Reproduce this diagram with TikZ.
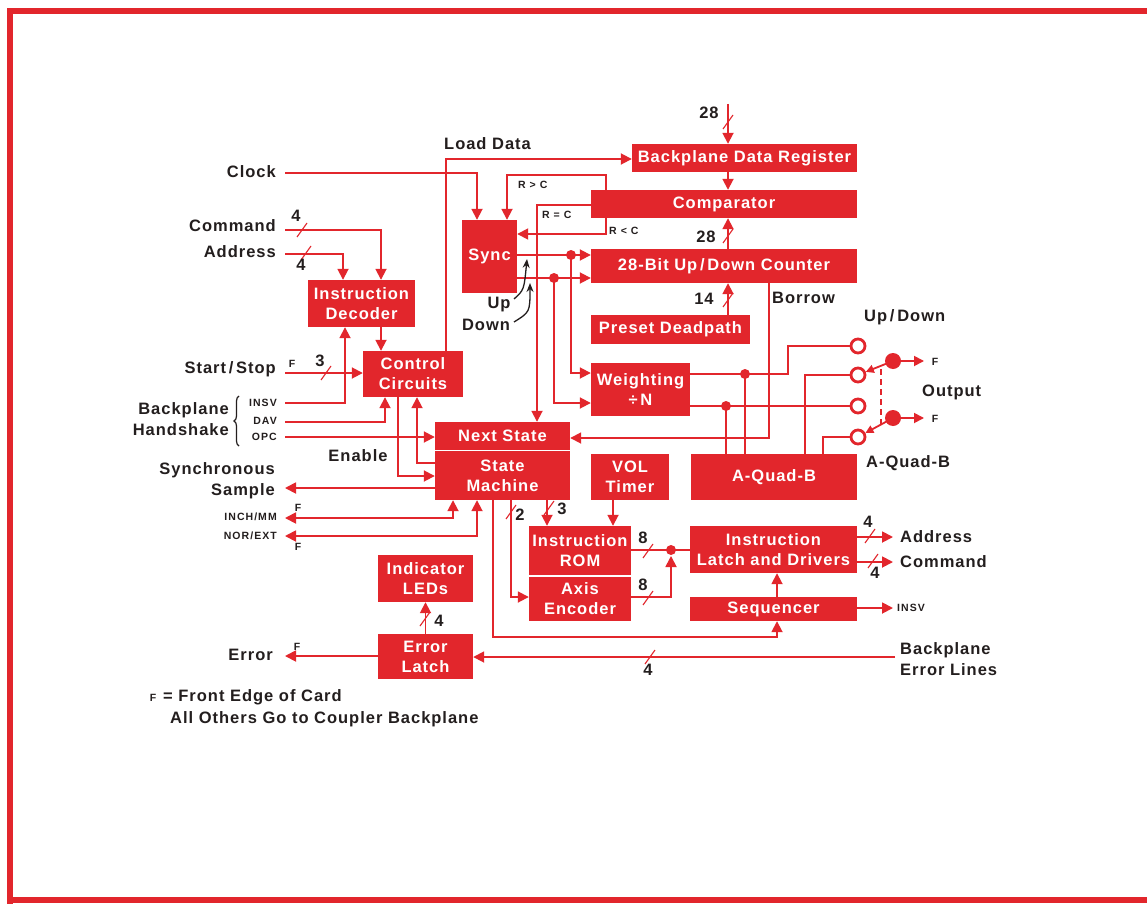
\documentclass[tikz,border=0pt]{standalone}
\usepackage{fontspec}
\newfontfamily\hpfont{Liberation Sans}[LetterSpace=6]
\newfontfamily\hpsmallfont{Liberation Sans}[LetterSpace=10]
\usetikzlibrary{arrows.meta,decorations.pathreplacing}
\definecolor{hpred}{RGB}{226,38,44}
\definecolor{ink}{RGB}{35,30,30}
\tikzset{
  box/.style={fill=hpred, draw=none, text=white, align=center, inner sep=0pt,
    font={\hpfont\bfseries\fontsize{16.5}{20}\selectfont}},
  lbl/.style={text=ink, inner sep=0pt, align=left, font={\hpfont\bfseries\fontsize{16.5}{21}\selectfont}},
  small/.style={text=ink, inner sep=0pt, font={\hpsmallfont\bfseries\fontsize{10.5}{12}\selectfont}},
  wire/.style={draw=hpred, line width=1.8pt},
  arr/.style={wire, -{Triangle[length=11pt,width=11pt]}},
  arrtwo/.style={wire, {Triangle[length=11pt,width=11pt]}-{Triangle[length=11pt,width=11pt]}},
  ring/.style={circle, draw=hpred, line width=2.8pt, minimum size=14pt, inner sep=0pt},
  bigdot/.style={circle, fill=hpred, minimum size=16pt, inner sep=0pt},
  slash/.pic={\draw[hpred, line width=1.1pt] (-5,7) -- (5,-7);}
}
\begin{document}
\begin{tikzpicture}[x=1pt,y=-1pt]
\useasboundingbox (0,0) rectangle (1147,904);
\fill[white] (0,0) rectangle (1147,904);
% frame
\fill[hpred] (7,8) rectangle (1147,14);
\fill[hpred] (7,8) rectangle (13,904);
\fill[hpred] (7,897) rectangle (1147,903);

% boxes
\node[box, minimum width=225pt, minimum height=28pt] (bdr) at (744.5,158) {Backplane Data Register};
\node[box, minimum width=266pt, minimum height=28pt] (comp) at (724,204) {Comparator};
\node[box, minimum width=266pt, minimum height=34pt] (cnt) at (724,266) {28-Bit Up\,/\,Down Counter};
\node[box, minimum width=55pt, minimum height=73pt] (sync) at (489.5,256.5) {Sync};
\node[box, minimum width=159pt, minimum height=29pt] (preset) at (670.5,329.5) {Preset Deadpath};
\node[box, minimum width=99pt, minimum height=53pt] (weight) at (640.5,389.5) {Weighting\\÷\,N};
\node[box, minimum width=166pt, minimum height=46pt] (aqb) at (774,477) {A-Quad-B};
\node[box, minimum width=78pt, minimum height=46pt] (vol) at (630,477) {VOL\\Timer};
\node[box, minimum width=135pt, minimum height=28pt] (next) at (502.5,436) {Next State};
\node[box, minimum width=135pt, minimum height=49pt] (sm) at (502.5,475.5) {State\\Machine};
\node[box, minimum width=100pt, minimum height=46pt] (cc) at (413,374) {Control\\Circuits};
\node[box, minimum width=107pt, minimum height=47pt] (dec) at (361.5,303.5) {Instruction\\Decoder};
\node[box, minimum width=102pt, minimum height=49pt] (rom) at (580,550.5) {Instruction\\ROM};
\node[box, minimum width=102pt, minimum height=44pt] (enc) at (580,599) {Axis\\Encoder};
\node[box, minimum width=167pt, minimum height=47pt] (latch) at (773.5,549.5) {Instruction\\Latch and Drivers};
\node[box, minimum width=167pt, minimum height=24pt] (seq) at (773.5,609) {Sequencer};
\node[box, minimum width=95pt, minimum height=47pt] (leds) at (425.5,578.5) {Indicator\\LEDs};
\node[box, minimum width=95pt, minimum height=45pt] (err) at (425.5,656.5) {Error\\Latch};

% ---- top: data register, comparator, counter
\coordinate (in28) at (728,104);
\draw[arr] (in28) -- (bdr.north -| in28);
\pic at (728,122) {slash};
\node[lbl] (n28a) at (709,113) {28};
\draw[arr] (bdr.south -| in28) -- (comp.north -| in28);
\draw[arr] (cnt.north -| in28) -- (comp.south -| in28);
\pic at (728,236) {slash};
\node[lbl] (n28b) at (706,237) {28};
\draw[arr] (preset.north -| in28) -- (cnt.south -| in28);
\pic at (728,300) {slash};
\node[lbl] (n14) at (704,299) {14};

% load data
\coordinate (ld) at (446,159);
\draw[arr] (cc.north -| ld) -- (ld) -- (bdr.west |- ld);
\node[lbl, anchor=west] (ldl) at (444,144) {Load Data};

% clock
\coordinate (clk) at (285,173);
\coordinate (clkc) at (477,173);
\draw[arr] (clk) -- (clkc) -- (sync.north -| clkc);
\node[lbl, anchor=east] (clkl) at (276,172) {Clock};

% comparator results
\coordinate (rgt) at (606,175);
\coordinate (rgt2) at (507,175);
\draw[arr] (comp.north -| rgt) -- (rgt) -- (rgt2) -- (sync.north -| rgt2);
\node[small, anchor=west] (rgtl) at (518,185) {R > C};
\coordinate (req) at (537,205);
\draw[arr] (comp.west |- req) -- (req) -- (next.north -| req);
\node[small, anchor=west] (reql) at (542,215) {R = C};
\coordinate (rlt) at (606,234);
\draw[arr] (comp.south -| rlt) -- (rlt) -- (sync.east |- rlt);
\node[small, anchor=west] (rltl) at (609,231) {R < C};

% up / down
\coordinate (up) at (571,255);
\coordinate (dn) at (554,278);
\draw[arr] (sync.east |- up) -- (cnt.west |- up);
\draw[arr] (sync.east |- dn) -- (cnt.west |- dn);
\coordinate (wup) at (571,373);
\coordinate (wdn) at (554,403);
\draw[arr] (up) -- (wup) -- (weight.west |- wup);
\draw[arr] (dn) -- (wdn) -- (weight.west |- wdn);
\fill[hpred] (up) circle (5);
\fill[hpred] (dn) circle (5);
\node[lbl] (upl) at (499,305) {Up};
\node[lbl] (dnl) at (486,325) {Down};
\draw[ink, line width=1.3pt, -{Stealth[length=9pt,width=7pt]}] (514,299) .. controls (524,290) .. (527,259);
\draw[ink, line width=1.3pt, -{Stealth[length=9pt,width=7pt]}] (514,322) .. controls (530,312) .. (530,283);

% borrow
\coordinate (bor) at (769,438);
\draw[arr] (cnt.south -| bor) -- (bor) -- (next.east |- bor);
\node[lbl, anchor=west] (borl) at (772,298) {Borrow};

% outputs
\node[ring] (o1) at (858,346) {};
\node[ring] (o2) at (858,375) {};
\node[ring] (o3) at (858,406) {};
\node[ring] (o4) at (858,437) {};
\coordinate (wo1) at (788,374);
\draw[wire] (weight.east |- wo1) -- (wo1) |- (o1);
\coordinate (wo2) at (726,406);
\draw[wire] (weight.east |- wo2) -- (o3);
\coordinate (j1) at (745,374);
\draw[wire] (j1) -- (aqb.north -| j1);
\draw[wire] (wo2) -- (aqb.north -| wo2);
\fill[hpred] (j1) circle (5);
\fill[hpred] (wo2) circle (5);
\coordinate (aq1) at (805,375);
\draw[wire] (aqb.north -| aq1) |- (o2);
\coordinate (aq2) at (823,437);
\draw[wire] (aqb.north -| aq2) |- (o4);
\node[bigdot] (s1) at (893,361) {};
\node[bigdot] (s2) at (893,418) {};
\coordinate (f1) at (924,361);
\coordinate (f2) at (924,418);
\draw[wire, -{Triangle[length=10pt,width=10pt]}] (s1) -- (f1);
\draw[wire, -{Triangle[length=10pt,width=10pt]}] (s2) -- (f2);
\draw[wire, -{Triangle[length=8pt,width=8pt]}] (s1.center) -- (o2);
\draw[wire, -{Triangle[length=8pt,width=8pt]}] (s2.center) -- (o4);
\draw[hpred, line width=1.4pt, dash pattern=on 6pt off 4pt] (881,369) -- (881,425);
\node[small] (ff1) at (935,362) {F};
\node[small] (ff2) at (935,419) {F};
\node[lbl, anchor=west] (udl) at (864,317) {Up\,/\,Down};
\node[lbl, anchor=west] (outl) at (922,392) {Output};
\node[lbl, anchor=west] (aqbl) at (866,463) {A-Quad-B};

% decoder / control inputs
\coordinate (cmd) at (285,230);
\coordinate (cmdc) at (381,230);
\draw[arr] (cmd) -- (cmdc) -- (dec.north -| cmdc);
\pic at (302,230) {slash};
\node[lbl] (n4a) at (296,216) {4};
\node[lbl, anchor=east] (cmdl) at (276,226) {Command};
\coordinate (adr) at (285,254);
\coordinate (adrc) at (343,254);
\draw[arr] (adr) -- (adrc) -- (dec.north -| adrc);
\pic at (306,253) {slash};
\node[lbl] (n4b) at (301,265) {4};
\node[lbl, anchor=east] (adrl) at (276,252) {Address};
\draw[arr] (dec.south -| cmdc) -- (cc.north -| cmdc);

\coordinate (ss) at (285,373);
\draw[arr] (ss) -- (cc.west |- ss);
\pic at (326,373) {slash};
\node[lbl] (n3a) at (320,361) {3};
\node[small] (fss) at (292,364) {F};
\node[lbl, anchor=east] (ssl) at (276,369) {Start\,/\,Stop};

\coordinate (insv) at (285,403);
\coordinate (insvc) at (345,403);
\draw[arr] (insv) -- (insvc) -- (dec.south -| insvc);
\coordinate (dav) at (285,422);
\coordinate (davc) at (385,422);
\draw[arr] (dav) -- (davc) -- (cc.south -| davc);
\coordinate (opc) at (285,437);
\draw[arr] (opc) -- (next.west |- opc);
\node[small, anchor=east] (insvl) at (277,403) {INSV};
\node[small, anchor=east] (davl) at (277,421) {DAV};
\node[small, anchor=east] (opcl) at (277,437) {OPC};
\draw[ink, line width=1.2pt, decorate, decoration={brace, amplitude=5pt}] (239,446) -- (239,396);
\node[lbl, anchor=east, align=right] (bhl) at (229,419.5) {Backplane\\Handshake};

% control <-> state machine
\coordinate (en1) at (398,476);
\draw[arr] (cc.south -| en1) -- (en1) -- (sm.west |- en1);
\coordinate (en2) at (417,463);
\draw[arr] (sm.west |- en2) -- (en2) -- (cc.south -| en2);
\node[lbl] (enl) at (358,456) {Enable};

\coordinate (syn) at (285,488);
\draw[arr] (sm.west |- syn) -- (syn);
\node[lbl, anchor=east, align=right] (synl) at (275,481) {Synchronous\\Sample};

\coordinate (inch) at (285,518);
\coordinate (inchc) at (453,518);
\draw[arrtwo] (inch) -- (inchc) -- (sm.south -| inchc);
\node[small, anchor=east] (inchl) at (277,517) {INCH/MM};
\node[small] (finch) at (298,508) {F};
\coordinate (nor) at (285,536);
\coordinate (norc) at (477,536);
\draw[arrtwo] (nor) -- (norc) -- (sm.south -| norc);
\node[small, anchor=east] (norl) at (277,536) {NOR/EXT};
\node[small] (fnor) at (298,547) {F};

% state machine outputs
\coordinate (sq1) at (493,637);
\coordinate (sq2) at (777,637);
\draw[arr] (sm.south -| sq1) -- (sq1) -- (sq2) -- (seq.south -| sq2);
\coordinate (ax) at (511,597);
\draw[arr] (sm.south -| ax) -- (ax) -- (enc.west |- ax);
\pic at (511,512) {slash};
\node[lbl] (n2) at (520,515) {2};
\coordinate (rm) at (547,510);
\draw[arr] (sm.south -| rm) -- (rom.north -| rm);
\pic at (549,508) {slash};
\node[lbl] (n3b) at (562,509) {3};
\coordinate (vo) at (613,510);
\draw[arr] (vol.south -| vo) -- (rom.north -| vo);

\coordinate (jr) at (671,550);
\draw[wire] (rom.east |- jr) -- (latch.west |- jr);
\fill[hpred] (jr) circle (5);
\pic at (648,551) {slash};
\node[lbl] (n8a) at (643,538) {8};
\coordinate (eo) at (671,597);
\coordinate (jrb) at (671,556);
\draw[arr] (enc.east |- eo) -- (eo) -- (jrb);
\pic at (648,598) {slash};
\node[lbl] (n8b) at (643,585) {8};

\draw[arr] (seq.north -| sq2) -- (latch.south -| sq2);
\coordinate (ao) at (893,537);
\draw[arr] (latch.east |- ao) -- (ao);
\pic at (870,536) {slash};
\node[lbl] (n4c) at (868,522) {4};
\node[lbl, anchor=west] (aol) at (900,537) {Address};
\coordinate (co) at (893,562);
\draw[arr] (latch.east |- co) -- (co);
\pic at (873,561) {slash};
\node[lbl] (n4d) at (875,573) {4};
\node[lbl, anchor=west] (col) at (900,562) {Command};
\coordinate (io) at (893,608);
\draw[arr] (seq.east |- io) -- (io);
\node[small, anchor=west] (iol) at (897,608) {INSV};

% error
\coordinate (el) at (895,657);
\draw[arr] (el) -- (err.east |- el);
\pic at (650,657) {slash};
\node[lbl] (n4e) at (648,670) {4};
\node[lbl, anchor=west, align=left] (ell) at (900,659.5) {Backplane\\Error Lines};
\draw[arr] (err.north) -- (leds.south);
\pic at (425,619) {slash};
\node[lbl] (n4f) at (439,621) {4};
\coordinate (eout) at (285,656);
\draw[arr] (err.west |- eout) -- (eout);
\node[small] (ferr) at (297,647) {F};
\node[lbl, anchor=east] (errl) at (273,655) {Error};

% legend
\node[small] (fleg) at (153,698) {F};
\node[lbl, anchor=west] (leg1) at (163,697) {= Front Edge of Card};
\node[lbl, anchor=west] (leg2) at (170,719) {All Others Go to Coupler Backplane};
\end{tikzpicture}
\end{document}
